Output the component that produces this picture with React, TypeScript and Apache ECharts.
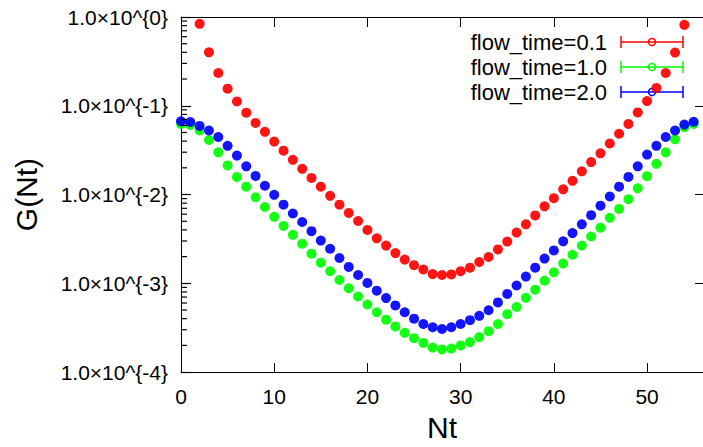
import React, { useEffect, useRef } from "react";
import * as echarts from "echarts";

const nt = [0, 1, 2, 3, 4, 5, 6, 7, 8, 9, 10, 11, 12, 13, 14, 15, 16, 17, 18, 19, 20, 21, 22, 23, 24, 25, 26, 27, 28, 29, 30, 31, 32, 33, 34, 35, 36, 37, 38, 39, 40, 41, 42, 43, 44, 45, 46, 47, 48, 49, 50, 51, 52, 53, 54, 55];

const flow01: (number | null)[] = [null, null, 0.837, 0.4, 0.234, 0.156, 0.112, 0.0837, 0.0641, 0.0509, 0.0395, 0.0312, 0.0246, 0.0195, 0.0154, 0.01226, 0.00968, 0.00769, 0.00621, 0.00503, 0.004, 0.00321, 0.00266, 0.00219, 0.00185, 0.0016, 0.00143, 0.00127, 0.00124, 0.00126, 0.00137, 0.0015, 0.00174, 0.00198, 0.00241, 0.00295, 0.00373, 0.00462, 0.00582, 0.00737, 0.0091, 0.01145, 0.01428, 0.01827, 0.0232, 0.0291, 0.0376, 0.0484, 0.0625, 0.0841, 0.113, 0.159, 0.234, 0.397, 0.816, null];

const flow10: number[] = [0.0625, 0.0609, 0.0527, 0.0412, 0.0299, 0.0213, 0.0158, 0.01226, 0.00933, 0.00724, 0.00561, 0.00443, 0.00352, 0.0028, 0.00216, 0.00171, 0.00137, 0.00109, 0.000881, 0.00071, 0.000578, 0.000472, 0.00039, 0.000327, 0.000277, 0.000241, 0.000213, 0.000189, 0.00018, 0.000184, 0.0002, 0.000218, 0.000248, 0.000289, 0.000348, 0.000449, 0.000541, 0.000686, 0.000848, 0.00107, 0.00133, 0.00167, 0.0021, 0.00266, 0.00337, 0.00424, 0.00547, 0.00689, 0.00887, 0.01175, 0.0161, 0.0222, 0.0299, 0.0419, 0.0574, 0.0625];

const flow20: number[] = [0.0669, 0.0657, 0.0593, 0.0527, 0.0445, 0.0354, 0.0275, 0.0208, 0.0162, 0.01257, 0.00993, 0.00769, 0.00612, 0.00491, 0.00387, 0.00303, 0.00245, 0.00193, 0.00153, 0.00124, 0.00101, 0.000826, 0.000682, 0.000564, 0.000472, 0.0004, 0.000348, 0.00032, 0.000306, 0.00032, 0.000348, 0.000385, 0.00043, 0.000497, 0.000609, 0.00076, 0.000946, 0.00119, 0.0015, 0.0019, 0.00235, 0.00297, 0.00368, 0.00462, 0.00586, 0.0075, 0.00951, 0.01226, 0.0158, 0.0208, 0.0282, 0.0354, 0.0445, 0.0527, 0.0614, 0.0661];

const seriesNames = ["flow_time=0.1", "flow_time=1.0", "flow_time=2.0"];
const seriesColors = ["#ff0000", "#00ff00", "#0000ff"];
const minorTickValues = [
  0.0002, 0.0003, 0.0004, 0.0005, 0.0006, 0.0007, 0.0008, 0.0009,
  0.002, 0.003, 0.004, 0.005, 0.006, 0.007, 0.008, 0.009,
  0.02, 0.03, 0.04, 0.05, 0.06, 0.07, 0.08, 0.09,
  0.2, 0.3, 0.4, 0.5, 0.6, 0.7, 0.8, 0.9,
];

function pairs(vals: (number | null)[]) {
  return nt.map((x, i) => [x, vals[i] == null ? "-" : vals[i]]);
}

export default function App() {
  const ref = useRef<HTMLDivElement>(null);
  useEffect(() => {
    if (!ref.current) return;
    const chart = echarts.init(ref.current, undefined, { renderer: "svg" });
    const axisFont = "Liberation Sans";
    const legendX = 607;
    const legendY0 = 42;
    const legendStep = 25;
    const graphics: any[] = [];
    seriesNames.forEach((name, i) => {
      const y = legendY0 + legendStep * i;
      const c = seriesColors[i];
      graphics.push({
        type: "text",
        x: legendX,
        y,
        style: {
          text: name,
          fill: "#000",
          fontSize: 22,
          fontFamily: "Liberation Sans",
          align: "right",
          verticalAlign: "middle",
        },
      });
      graphics.push({ type: "line", shape: { x1: 621, y1: y, x2: 683, y2: y }, style: { stroke: c, lineWidth: 1.5 } });
      graphics.push({ type: "line", shape: { x1: 621, y1: y - 6, x2: 621, y2: y + 6 }, style: { stroke: c, lineWidth: 1.5 } });
      graphics.push({ type: "line", shape: { x1: 683, y1: y - 6, x2: 683, y2: y + 6 }, style: { stroke: c, lineWidth: 1.5 } });
      graphics.push({ type: "circle", shape: { cx: 652, cy: y, r: 3.5 }, style: { stroke: c, lineWidth: 1.5, fill: "none" } });
    });

    const scatter = (idx: number, vals: (number | null)[]) => ({
      name: seriesNames[idx],
      type: "scatter",
      data: pairs(vals),
      symbol: "circle",
      symbolSize: 10,
      itemStyle: { color: seriesColors[idx], opacity: 0.92 },
      xAxisIndex: 0,
      yAxisIndex: 0,
      z: 3,
    });

    chart.setOption({
      animation: false,
      backgroundColor: "#ffffff",
      grid: { left: 181, right: -6, top: 17, bottom: 68, containLabel: false },
      xAxis: [
        {
          type: "value",
          position: "bottom",
          min: 0,
          max: 56,
          interval: 10,
          name: "Nt",
          nameLocation: "middle",
          nameGap: 37,
          nameTextStyle: { fontSize: 30, color: "#000", fontFamily: axisFont },
          axisLine: { show: true, onZero: false, lineStyle: { color: "#000", width: 1 } },
          axisTick: { show: true, inside: true, length: 9, lineStyle: { color: "#000" } },
          axisLabel: { color: "#000", fontSize: 21, fontFamily: axisFont, margin: 14, showMaxLabel: false },
          splitLine: { show: false },
        },
        {
          type: "value",
          position: "top",
          min: 0,
          max: 56,
          interval: 10,
          axisLine: { show: true, onZero: false, lineStyle: { color: "#000", width: 1 } },
          axisTick: { show: true, inside: true, length: 10, lineStyle: { color: "#000" } },
          axisLabel: { show: false },
          splitLine: { show: false },
        },
      ],
      yAxis: [
        {
          type: "log",
          logBase: 10,
          min: 0.0001,
          max: 1,
          name: "G(Nt)",
          nameLocation: "middle",
          nameGap: 140,
          nameRotate: 90,
          nameTextStyle: { fontSize: 30, color: "#000", fontFamily: axisFont },
          axisLine: { show: true, onZero: false, lineStyle: { color: "#000", width: 1 } },
          axisTick: { show: true, inside: true, length: 10, lineStyle: { color: "#000", width: 1.2 } },
          axisLabel: {
            color: "#000",
            fontSize: 21,
            fontFamily: axisFont,
            margin: 13,
            formatter: (v: number) => "1.0×10^{" + Math.round(Math.log10(v)) + "}",
          },
          splitLine: { show: false },
        },
        {
          type: "log",
          logBase: 10,
          min: 0.0001,
          max: 1,
          position: "right",
          axisLine: { show: true, onZero: false, lineStyle: { color: "#000", width: 1 } },
          axisTick: { show: true, inside: true, length: 8, lineStyle: { color: "#000" } },
          axisLabel: { show: false },
          splitLine: { show: false },
        },
      ],
      graphic: graphics,
      series: [
        {
          type: "custom",
          name: "minorTicks",
          xAxisIndex: 0,
          yAxisIndex: 0,
          silent: true,
          clip: false,
          dimensions: ["x", "y"],
          encode: { x: 0, y: 1 },
          data: minorTickValues.map((v) => [0, v]),
          renderItem: (params: any, api: any) => {
            const p = api.coord([api.value(0), api.value(1)]);
            return {
              type: "line",
              shape: { x1: p[0], y1: p[1], x2: p[0] + 6, y2: p[1] },
              style: { stroke: "#000", lineWidth: 1.2 },
            };
          },
          z: 5,
        },
        scatter(0, flow01),
        scatter(1, flow10),
        scatter(2, flow20),
      ],
    });
    return () => chart.dispose();
  }, []);
  return (
    <div
      ref={ref}
      style={{ position: "fixed", left: 0, top: 0, width: 703, height: 447, background: "#fff" }}
    />
  );
}
